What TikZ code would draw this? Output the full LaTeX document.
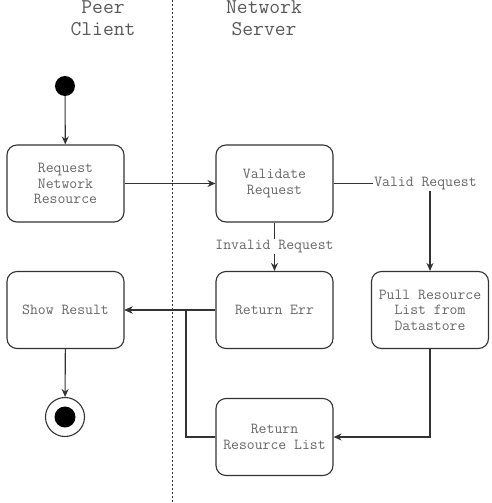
\documentclass[tikz,border=0pt]{standalone}
\usepackage{fontspec}
\usepackage{tikz}
\usetikzlibrary{arrows.meta}

\begin{document}
\begin{tikzpicture}[x=1pt,y=-1pt,
  lane/.style={text=black!65,align=center,font=\ttfamily\fontsize{21}{22}\selectfont},
  state/.style={draw=black!80,line width=1.1pt,rounded corners=10pt,minimum width=117pt,minimum height=77pt,inner sep=0pt,align=center,text=black!60,font=\ttfamily\fontsize{15.3}{15.5}\selectfont},
  guard/.style={fill=white,inner sep=1pt,text=black!60,font=\ttfamily\fontsize{15.3}{15.5}\selectfont},
  flow/.style={draw=black!80,line width=1.1pt,-{Stealth[length=8pt,width=7pt]}}]
\useasboundingbox (0,0) rectangle (492,503);

\draw[black!80,line width=0.9pt,dash pattern=on 2pt off 2pt] (172,0) -- (172,503);

\node[lane] (peer) at (103,18) {Peer\\Client};
\node[lane] (server) at (264,18) {Network\\Server};

\node[circle,fill=black,minimum size=20pt,inner sep=0pt] (start) at (65,86) {};
\node[state] (req) at (65.5,183.5) {Request\\Network\\Resource};
\node[state] (val) at (274.5,183.5) {Validate\\Request};
\node[state] (show) at (65.5,310) {Show Result};
\node[state] (err) at (274.5,310) {Return Err};
\node[state] (pull) at (430,310) {Pull Resource\\List from\\Datastore};
\node[state] (list) at (274.5,437) {Return\\Resource List};
\node[circle,draw=black!80,line width=1.1pt,minimum size=39pt,inner sep=0pt] (end) at (65,417) {};
\node[circle,fill=black,minimum size=21pt,inner sep=0pt] (endin) at (end) {};
\coordinate (merge) at (186,310);

\draw[flow] (start) -- (req);
\draw[flow] (req) -- (val);
\draw[flow] (val.east) -| node[guard,xshift=-4.5pt] {Valid Request} (pull.north);
\draw[flow] (val) -- node[guard] {Invalid Request} (err);
\draw[flow] (err) -- (show);
\draw[flow] (pull.south) |- (list.east);
\draw[flow] (list.west) -| (merge) -- (show.east);
\draw[flow] (show) -- (end);
\end{tikzpicture}
\end{document}
